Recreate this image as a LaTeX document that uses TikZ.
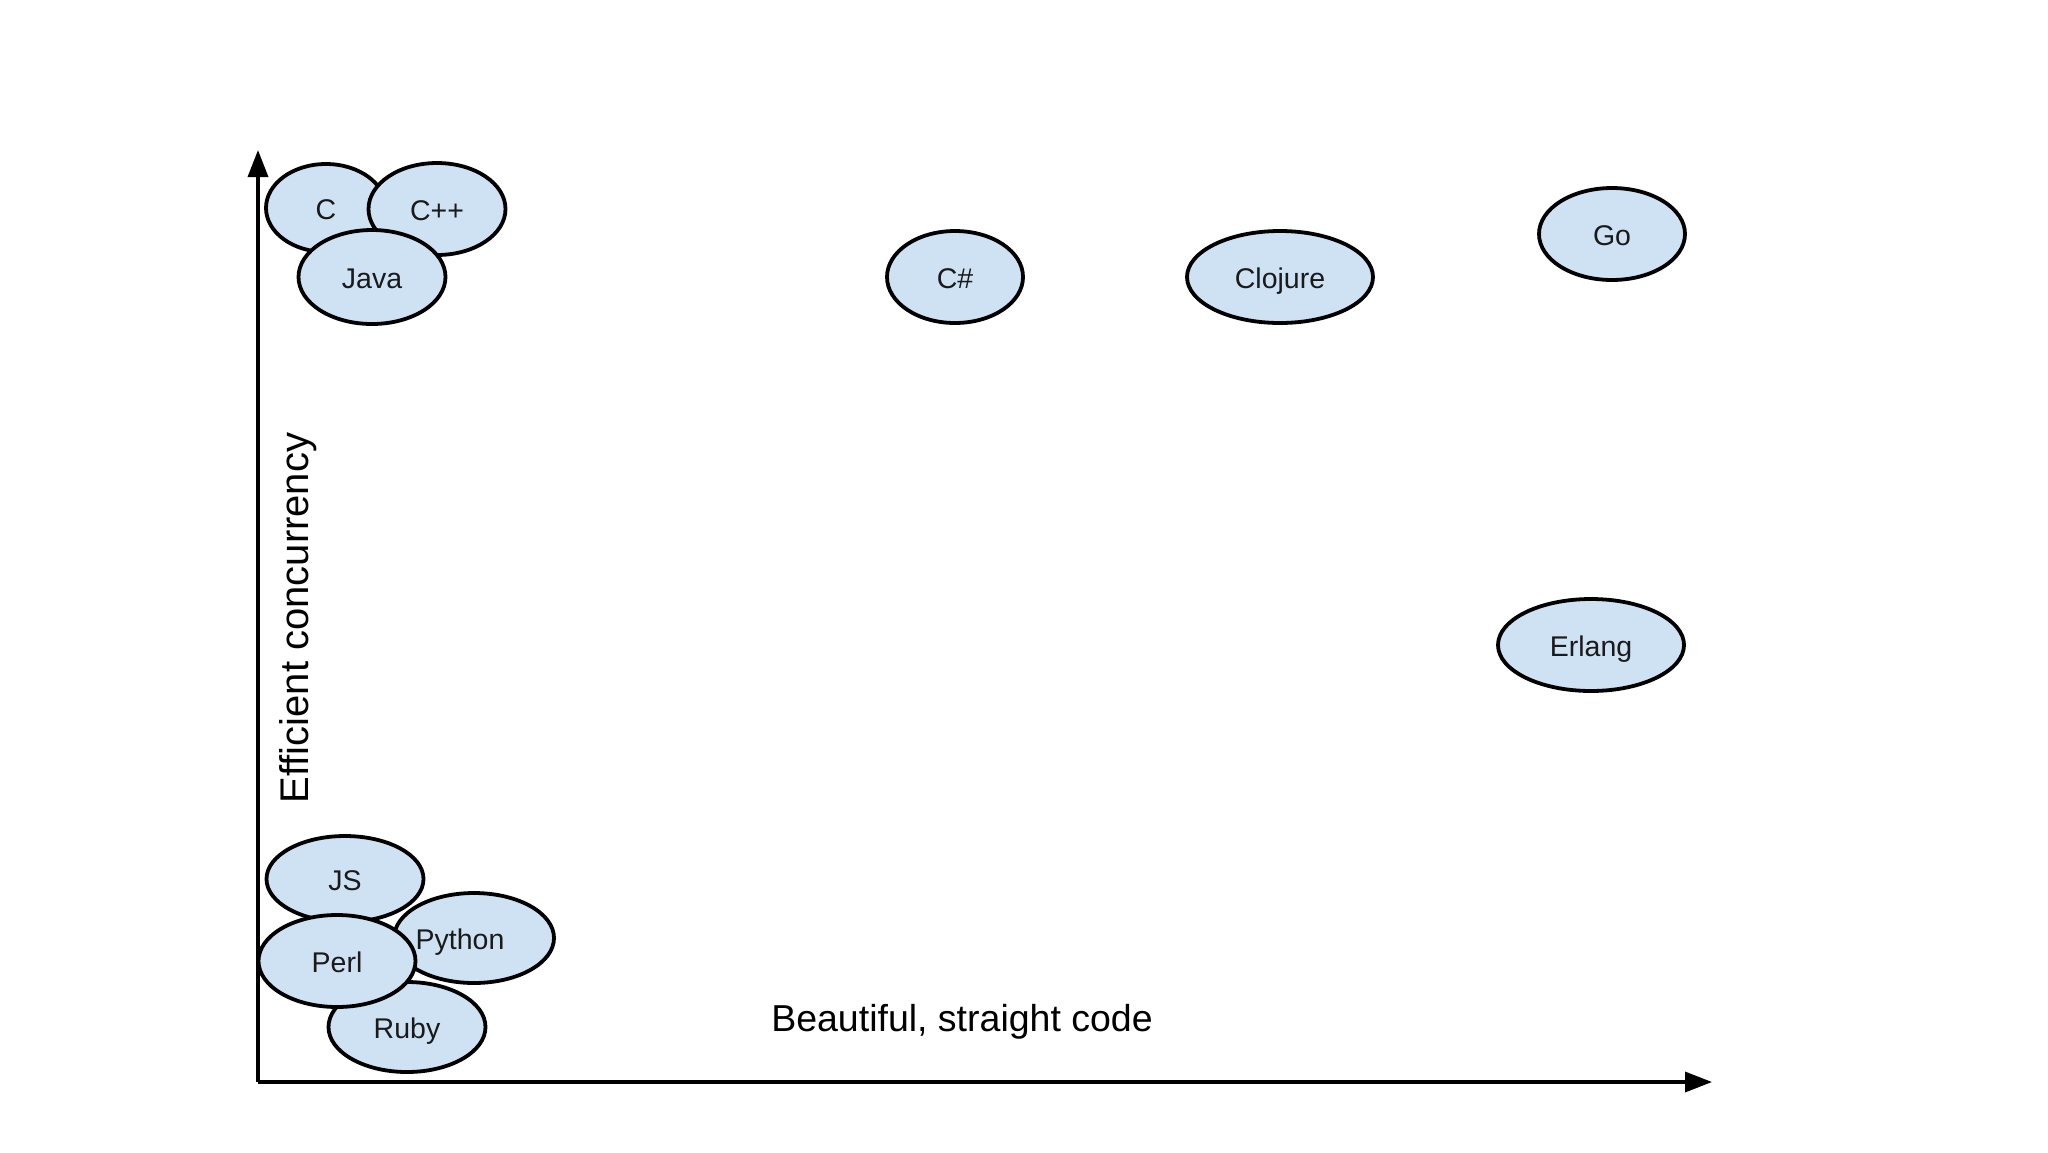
\documentclass[tikz,border=0pt]{standalone}
\usepackage{fontspec}
\setmainfont{Liberation Sans}
\usetikzlibrary{shapes.geometric,arrows.meta}
\definecolor{bubble}{HTML}{CFE2F3}
\definecolor{ink}{HTML}{1A1A1A}
\tikzset{
  lang/.style={ellipse, draw=black, line width=3.8pt, fill=bubble, inner sep=0pt,
    text=ink, font=\fontsize{28.5}{30}\selectfont, text height=23.5pt, text depth=0pt},
  axis/.style={draw=black, line width=3.5pt, -{Triangle[length=27pt,width=20pt]}},
  axlabel/.style={text=black, inner sep=0pt}
}
\begin{document}
\begin{tikzpicture}[x=1pt,y=-1pt]
\useasboundingbox (0,0) rectangle (2048,1152);
\fill[white] (0,0) rectangle (2048,1152);
% axes
\coordinate (O) at (258,1082);
\coordinate (ytip) at (258,150);
\coordinate (xtip) at (1712,1082);
\draw[axis] (O) -- (ytip);
\draw[axis] (O) -- (xtip);
\node[axlabel, rotate=90, font=\fontsize{40}{42}\selectfont] (ylab) at (298,618) {Efficient concurrency};
\node[axlabel, font=\fontsize{37.5}{40}\selectfont] (xlab) at (962,1022) {Beautiful, straight code};
% top-left cluster
\node[lang, minimum width=120pt, minimum height=88pt] (c) at (326,208) {C};
\node[lang, minimum width=137pt, minimum height=92pt] (cpp) at (437,209) {C++};
\node[lang, minimum width=147pt, minimum height=94pt] (java) at (372,277) {Java};
% top row
\node[lang, minimum width=136pt, minimum height=92pt] (cs) at (955,277) {C\#};
\node[lang, minimum width=186pt, minimum height=92pt] (clj) at (1280,277) {Clojure};
\node[lang, minimum width=146pt, minimum height=92pt] (go) at (1612,234) {Go};
\node[lang, minimum width=186pt, minimum height=92pt] (erl) at (1591,645) {Erlang};
% bottom-left cluster
\node[lang, minimum width=157pt, minimum height=90pt] (ruby) at (407,1027) {Ruby};
\node[lang, minimum width=160pt, minimum height=90pt] (py) at (474,938) {\makebox[0pt]{\hspace*{-28pt}Python}};
\node[lang, minimum width=157pt, minimum height=86pt] (js) at (345,879) {JS};
\node[lang, minimum width=157pt, minimum height=92pt] (perl) at (337,961) {Perl};
\end{tikzpicture}
\end{document}
